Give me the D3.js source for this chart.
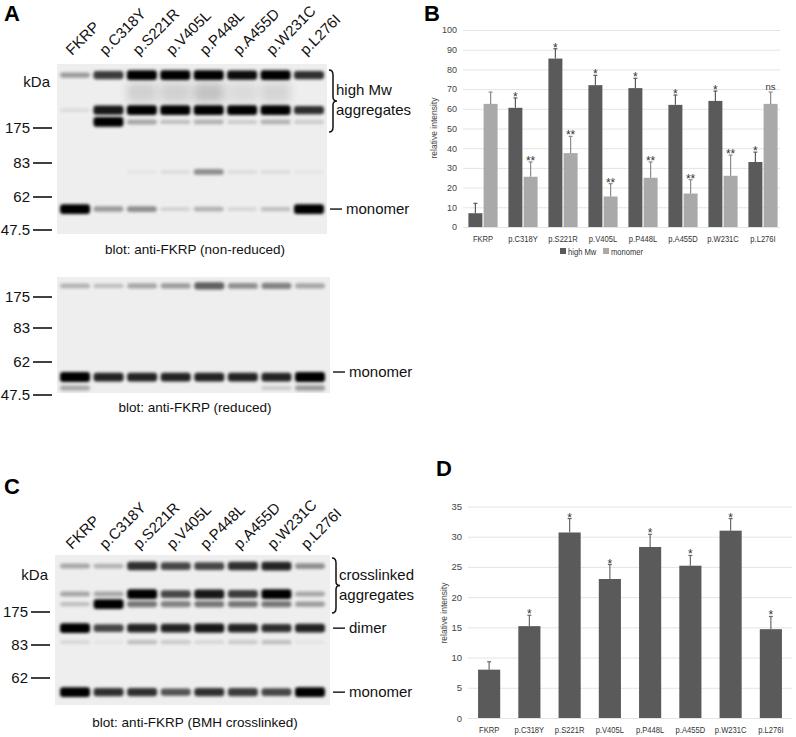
<!DOCTYPE html>
<html lang="en">
<head>
    <meta charset="UTF-8">
    <title>FKRP aggregates</title>
    <script src="https://cdn.jsdelivr.net/npm/d3@7"></script>
    <style>
        body { margin: 0; background: #fff; }
        svg { width: 796px; height: 737px; font-family: "Liberation Sans", Arial, sans-serif; }
        .panel { font-weight: bold; font-size: 22px; }
        .blotText { font-size: 15px; fill: #111; }
        .caption { font-size: 13.5px; fill: #111; }
        .grid line { stroke: #e4e4e4; stroke-width: 1px; }
        .grid text { fill: #444; }
        .grid .domain { display: none; }
        .cat text { fill: #333; }
    </style>
</head>
<body>
<svg></svg>

<script>

    var lanes = ['FKRP', 'p.C318Y', 'p.S221R', 'p.V405L', 'p.P448L', 'p.A455D', 'p.W231C', 'p.L276I'];

    // blot markers (kDa)
    var markersA = [175, 83, 62, 47.5];
    var markersC = [175, 83, 62];

    // non-reduced blot: apparent size of each band and its strength per lane
    var nrKda = [314, 268, 222, 191, 77.5, 56.7];
    var nrBands = [
        [0.35, 0.75, 1, 1, 1, 0.95, 1, 0.8],
        [0, 0, 0.12, 0.12, 0.18, 0.08, 0.1, 0],
        [0.08, 0.9, 1, 1, 1, 1, 1, 0.8],
        [0, 1, 0.3, 0.2, 0.25, 0.15, 0.25, 0.15],
        [0, 0, 0.04, 0.08, 0.4, 0.08, 0.08, 0.04],
        [1, 0.35, 0.4, 0.12, 0.25, 0.1, 0.2, 1]
    ];

    // reduced blot
    var rKda = [208, 55.4, 50.6];
    var rBands = [
        [0.25, 0.2, 0.3, 0.35, 0.6, 0.4, 0.45, 0.3],
        [1, 0.85, 0.85, 0.85, 0.85, 0.85, 0.85, 1],
        [0.3, 0, 0, 0, 0, 0, 0.15, 0.35]
    ];

    // BMH crosslinked blot
    var cKda = [303, 225, 197, 130, 91, 53];
    var cBands = [
        [0.3, 0.25, 0.8, 0.7, 0.7, 0.8, 0.85, 0.4],
        [0.3, 0.3, 1, 0.7, 0.9, 0.75, 1, 0.3],
        [0.2, 1, 0.5, 0.45, 0.5, 0.5, 0.5, 0.35],
        [1, 0.7, 0.85, 0.85, 0.9, 0.85, 0.8, 0.85],
        [0.1, 0.05, 0.2, 0.15, 0.1, 0.15, 0.2, 0.05],
        [1, 0.8, 0.8, 0.65, 0.8, 0.75, 0.7, 1]
    ];

    // panel B
    var highMw = [7, 60.5, 85.5, 72, 70.5, 62, 64, 33];
    var highMwErr = [5, 5, 5, 5, 5, 5, 5, 5];
    var highMwSig = ['', '*', '*', '*', '*', '*', '*', '*'];
    var monomer = [62.5, 25.5, 37.5, 15.5, 25, 17, 26, 62.5];
    var monomerErr = [6, 7.5, 8.5, 6.5, 8, 7, 10.5, 6];
    var monomerSig = ['', '**', '**', '**', '**', '**', '**', 'ns'];
    var ticksB = [0, 10, 20, 30, 40, 50, 60, 70, 80, 90, 100];

    // panel D
    var crosslinked = [8, 15.2, 30.7, 23, 28.3, 25.2, 31, 14.7];
    var crosslinkedErr = [1.3, 1.8, 2.3, 2.4, 2.1, 1.7, 2, 2.1];
    var crosslinkedSig = ['', '*', '*', '*', '*', '*', '*', '*'];
    var ticksD = [0, 5, 10, 15, 20, 25, 30, 35];

    var svg = d3.select('svg');

    var defs = svg.append('defs');
    defs.append('filter').attr('id', 'blur').attr('x', '-50%').attr('y', '-200%')
        .attr('width', '200%').attr('height', '500%')
        .append('feGaussianBlur').attr('stdDeviation', 1.6);
    defs.append('filter').attr('id', 'smear').attr('x', '-50%').attr('y', '-200%')
        .attr('width', '200%').attr('height', '500%')
        .append('feGaussianBlur').attr('stdDeviation', 4);

    function panelLetter(t, x, y) {
        svg.append('text').attr('class', 'panel').attr('x', x).attr('y', y).text(t);
    }

    function drawBlot(opt) {
        var g = svg.append('g');
        var y = d3.scaleLinear().domain(opt.markerKda).range(opt.markerY);
        var x = d3.scalePoint().domain(lanes).range(opt.laneRange);

        g.append('rect')
            .attr('x', opt.box[0]).attr('y', opt.box[1])
            .attr('width', opt.box[2] - opt.box[0]).attr('height', opt.box[3] - opt.box[1])
            .attr('fill', '#eeeeee');

        opt.kda.forEach(function (k, i) {
            var smear = opt.smear && opt.smear.indexOf(i) >= 0;
            g.selectAll(null)
                .data(opt.bands[i].map(function (v, j) { return {v: v, lane: lanes[j]}; })
                    .filter(function (d) { return d.v > 0; }))
                .enter()
                .append('rect')
                .attr('x', function (d) { return x(d.lane) - 15; })
                .attr('width', 30)
                .attr('y', function (d) { return y(k) - (smear ? 10 : 1.5 + 3.4 * d.v); })
                .attr('height', function (d) { return smear ? 20 : 3 + 6.8 * d.v; })
                .attr('rx', 3)
                .attr('fill', '#000')
                .attr('opacity', function (d) { return Math.min(1, d.v); })
                .attr('filter', smear ? 'url(#smear)' : 'url(#blur)');
        });

        // markers
        opt.markerKda.forEach(function (m) {
            g.append('line')
                .attr('x1', opt.box[0] - 24).attr('x2', opt.box[0] - 5)
                .attr('y1', y(m)).attr('y2', y(m))
                .attr('stroke', '#111').attr('stroke-width', 1.6);
            g.append('text').attr('class', 'blotText')
                .attr('x', opt.box[0] - 27).attr('y', y(m) + 5)
                .attr('text-anchor', 'end').text(m);
        });

        if (opt.kdaY) {
            g.append('text').attr('class', 'blotText')
                .attr('x', opt.box[0] - 7).attr('y', opt.kdaY)
                .attr('text-anchor', 'end').text('kDa');
        }

        if (opt.labelY) {
            g.selectAll(null).data(lanes).enter().append('text')
                .attr('class', 'blotText')
                .attr('transform', function (d) {
                    return 'translate(' + (x(d) - 3) + ',' + opt.labelY + ') rotate(-45)';
                })
                .text(function (d) { return d; });
        }

        // right side annotations
        (opt.right || []).forEach(function (r) {
            var ry = y(r.kda);
            g.append('line').attr('x1', opt.box[2] + 3).attr('x2', opt.box[2] + 15)
                .attr('y1', ry).attr('y2', ry).attr('stroke', '#111').attr('stroke-width', 1.4);
            g.append('text').attr('class', 'blotText')
                .attr('x', opt.box[2] + 19).attr('y', ry + 5).text(r.text);
        });

        if (opt.brace) {
            var b = opt.brace, bx = opt.box[2] + 2, top = b.y0, bot = b.y1, mid = (top + bot) / 2;
            g.append('path')
                .attr('d', 'M' + bx + ',' + top + ' Q' + (bx + 4) + ',' + top + ' ' + (bx + 4) + ',' + (top + 5) +
                    ' L' + (bx + 4) + ',' + (mid - 4) + ' Q' + (bx + 4) + ',' + mid + ' ' + (bx + 8) + ',' + mid +
                    ' Q' + (bx + 4) + ',' + mid + ' ' + (bx + 4) + ',' + (mid + 4) +
                    ' L' + (bx + 4) + ',' + (bot - 5) + ' Q' + (bx + 4) + ',' + bot + ' ' + bx + ',' + bot)
                .attr('fill', 'none').attr('stroke', '#111').attr('stroke-width', 1.5);
            b.lines.forEach(function (t, i) {
                g.append('text').attr('class', 'blotText')
                    .attr('x', bx + 7).attr('y', b.textY + i * 20).text(t);
            });
        }

        g.append('text').attr('class', 'caption')
            .attr('x', 195).attr('y', opt.captionY)
            .attr('text-anchor', 'middle').text(opt.caption);
    }

    panelLetter('A', 4, 21);
    drawBlot({
        box: [57, 64, 327, 234],
        markerKda: markersA, markerY: [128, 163, 197, 230],
        laneRange: [75, 309],
        kda: nrKda, bands: nrBands, smear: [1],
        kdaY: 87, labelY: 56,
        right: [{kda: 56.7, text: 'monomer'}],
        brace: {y0: 70, y1: 132, textY: 95, lines: ['high Mw', 'aggregates']},
        caption: 'blot: anti-FKRP (non-reduced)', captionY: 254
    });

    drawBlot({
        box: [57, 277, 330, 393],
        markerKda: markersA, markerY: [297, 328, 362, 395],
        laneRange: [75, 310],
        kda: rKda, bands: rBands,
        right: [{kda: 57.6, text: 'monomer'}],
        caption: 'blot: anti-FKRP (reduced)', captionY: 412
    });

    panelLetter('C', 4, 494);
    drawBlot({
        box: [55, 555, 330, 705],
        markerKda: markersC, markerY: [612, 645, 678],
        laneRange: [75, 310],
        kda: cKda, bands: cBands,
        kdaY: 580, labelY: 550,
        right: [{kda: 130, text: 'dimer'}, {kda: 53, text: 'monomer'}],
        brace: {y0: 558, y1: 613, textY: 580, lines: ['crosslinked', 'aggregates']},
        caption: 'blot: anti-FKRP (BMH crosslinked)', captionY: 727
    });

    // ---------- bar charts ----------
    var narrow = 'scale(0.8,1)';

    function errorBars(g, x, y, vals, errs, sigs, off, w, color) {
        vals.forEach(function (v, i) {
            var cx = x(lanes[i]) + off + w / 2;
            var top = y(v + errs[i]);
            g.append('line').attr('x1', cx).attr('x2', cx).attr('y1', y(v)).attr('y2', top)
                .attr('stroke', color).attr('stroke-width', 1.2);
            g.append('line').attr('x1', cx - 2).attr('x2', cx + 2).attr('y1', top).attr('y2', top)
                .attr('stroke', color).attr('stroke-width', 1.2);
            if (sigs[i]) {
                g.append('text').attr('x', cx).attr('y', top - 2 + (sigs[i] === 'ns' ? 0 : 5))
                    .attr('text-anchor', 'middle').attr('font-size', sigs[i] === 'ns' ? 9.5 : 12)
                    .attr('fill', '#333').text(sigs[i]);
            }
        });
    }

    panelLetter('B', 424, 21);
    var gB = svg.append('g');
    var yB = d3.scaleLinear().domain([0, 100]).range([227, 30]);
    var xB = d3.scaleBand().domain(lanes).range([463, 783]).paddingInner(0.27).paddingOuter(0.135);
    var sB = d3.scaleBand().domain(['high', 'mono']).range([0, xB.bandwidth()]).paddingInner(0.08);

    gB.append('g').attr('class', 'grid')
        .attr('transform', 'translate(463,0)')
        .call(d3.axisLeft(yB).tickValues(ticksB).tickSize(-317).tickPadding(6))
        .selectAll('text').attr('font-size', 9);
    gB.selectAll('.grid .tick line').attr('stroke', function (d) { return d === 0 ? '#cfcfcf' : '#e4e4e4'; });

    gB.selectAll(null).data(highMw).enter().append('rect')
        .attr('x', function (d, i) { return xB(lanes[i]) + sB('high'); })
        .attr('y', function (d) { return yB(d); })
        .attr('width', sB.bandwidth())
        .attr('height', function (d) { return yB(0) - yB(d); })
        .attr('fill', '#5a5a5a');
    gB.selectAll(null).data(monomer).enter().append('rect')
        .attr('x', function (d, i) { return xB(lanes[i]) + sB('mono'); })
        .attr('y', function (d) { return yB(d); })
        .attr('width', sB.bandwidth())
        .attr('height', function (d) { return yB(0) - yB(d); })
        .attr('fill', '#a9a9a9');
    errorBars(gB, xB, yB, highMw, highMwErr, highMwSig, sB('high'), sB.bandwidth(), '#5a5a5a');
    errorBars(gB, xB, yB, monomer, monomerErr, monomerSig, sB('mono'), sB.bandwidth(), '#8c8c8c');

    gB.append('g').attr('class', 'cat')
        .attr('transform', 'translate(0,227)')
        .call(d3.axisBottom(xB).tickSize(0).tickPadding(8))
        .call(function (a) { a.select('.domain').remove(); })
        .selectAll('text').attr('font-size', 9.5).attr('transform', narrow);

    gB.append('text').attr('transform', 'translate(437,128) rotate(-90)')
        .attr('text-anchor', 'middle').attr('font-size', 8.5).attr('fill', '#444')
        .text('relative intensity');

    var legB = [{name: 'high Mw', c: '#5a5a5a', x: 560}, {name: 'monomer', c: '#a9a9a9', x: 603}];
    legB.forEach(function (l) {
        gB.append('rect').attr('x', l.x).attr('y', 248).attr('width', 6).attr('height', 6).attr('fill', l.c);
        gB.append('text').attr('transform', 'translate(' + (l.x + 8) + ',254.5) ' + narrow)
            .attr('font-size', 9.5).attr('fill', '#333').text(l.name);
    });

    panelLetter('D', 436, 476);
    var gD = svg.append('g');
    var yD = d3.scaleLinear().domain([0, 35]).range([718, 506.5]);
    var xD = d3.scaleBand().domain(lanes).range([468, 792]).paddingInner(0.45).paddingOuter(0.25);

    gD.append('g').attr('class', 'grid')
        .attr('transform', 'translate(468,0)')
        .call(d3.axisLeft(yD).tickValues(ticksD).tickSize(-324).tickPadding(6))
        .selectAll('text').attr('font-size', 9.5);
    gD.selectAll('.grid .tick line').attr('stroke', function (d) { return d === 0 ? '#cfcfcf' : '#e4e4e4'; });

    gD.selectAll(null).data(crosslinked).enter().append('rect')
        .attr('x', function (d, i) { return xD(lanes[i]); })
        .attr('y', function (d) { return yD(d); })
        .attr('width', xD.bandwidth())
        .attr('height', function (d) { return yD(0) - yD(d); })
        .attr('fill', '#5a5a5a');
    errorBars(gD, xD, yD, crosslinked, crosslinkedErr, crosslinkedSig, 0, xD.bandwidth(), '#6a6a6a');

    gD.append('g').attr('class', 'cat')
        .attr('transform', 'translate(0,718)')
        .call(d3.axisBottom(xD).tickSize(0).tickPadding(8))
        .call(function (a) { a.select('.domain').remove(); })
        .selectAll('text').attr('font-size', 9.5).attr('transform', narrow);

    gD.append('text').attr('transform', 'translate(447,613) rotate(-90)')
        .attr('text-anchor', 'middle').attr('font-size', 8.5).attr('fill', '#444')
        .text('relative intensity');

</script>

</body>
</html>
